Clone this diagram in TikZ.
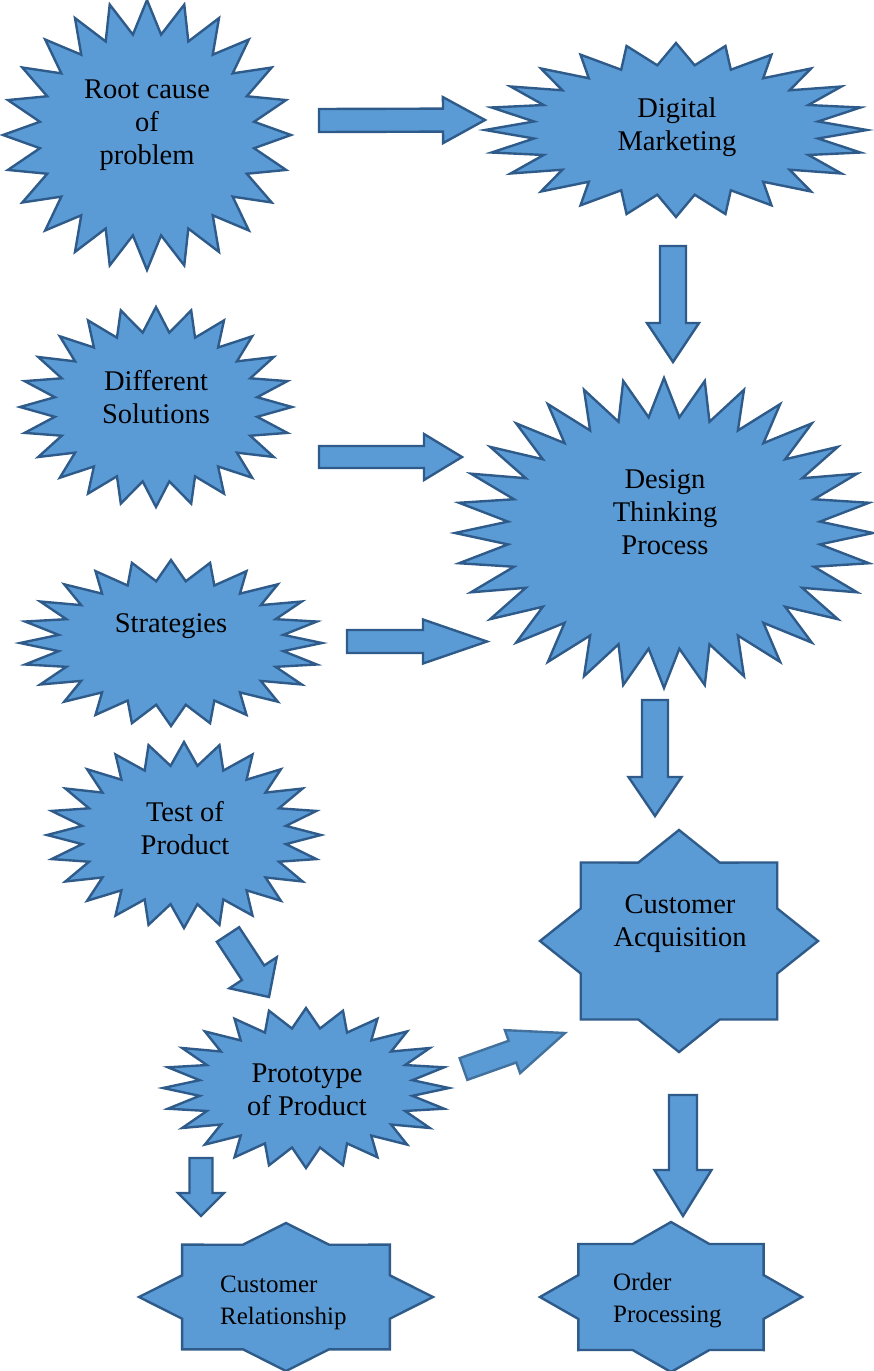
\documentclass[tikz,border=0pt]{standalone}
\usepackage{fontspec}
\setmainfont{Liberation Serif}
\usetikzlibrary{calc}
\definecolor{fillblue}{HTML}{5B9BD5}
\definecolor{lineblue}{HTML}{2E5B8A}
\definecolor{lightline}{HTML}{41719C}
\tikzset{
  shp/.style={fill=fillblue, draw=lineblue, line width=2.4pt, line join=miter, miter limit=10},
  arr/.style={fill=fillblue, draw=lineblue, line width=2.4pt, line join=miter},
  lbl/.style={align=center, font=\fontsize{28.5}{33}\selectfont, inner sep=0pt, text=black},
  lbls/.style={align=left, font=\fontsize{25}{32}\selectfont, inner sep=0pt, anchor=west, text=black},
}
% #1 cx, #2 cy, #3 rx, #4 ry, #5 points, #6 inner ratio
\newcommand\burstshape[6]{%
  \pgfmathtruncatemacro\burstns{2*#5}%
  \pgfmathtruncatemacro\burstnn{2*#5-1}%
  \draw[shp] plot[samples=\burstns, domain=0:\burstnn, variable=\k]
    ({#1+#3*(((1+#6)+(1-#6)*cos(180*\k))/2)*cos(90-180*\k/#5)},
     {#2+#4*(((1+#6)+(1-#6)*cos(180*\k))/2)*sin(90-180*\k/#5)}) -- cycle;
}
% #1 tail, #2 tip, #3 shaft half width, #4 head half width, #5 head length (pt), #6 extra style
\newcommand\blockarr[6]{%
  \coordinate (ba) at ($(#2)!#5pt!(#1)$);
  \draw[arr,#6] ($(#1)!#3pt!90:(#2)$) -- ($(ba)!#3pt!-90:(#1)$) -- ($(ba)!#4pt!-90:(#1)$)
    -- (#2) -- ($(ba)!#4pt!90:(#1)$) -- ($(ba)!#3pt!90:(#1)$) -- ($(#1)!#3pt!-90:(#2)$) -- cycle;
}
\begin{document}
\begin{tikzpicture}[x=1pt, y=-1pt]
\useasboundingbox (0,0) rectangle (874,1371);

% shapes
\burstshape{147}{135}{144}{135}{24}{0.75}
\burstshape{676}{130}{191}{87}{24}{0.75}
\burstshape{156}{407}{136}{100}{24}{0.75}
\burstshape{664}{533}{209}{155}{32}{0.75}
\burstshape{171}{643}{151}{83}{24}{0.75}
\burstshape{184}{835}{137}{93}{24}{0.75}
\burstshape{306}{1088}{143}{80}{24}{0.75}
\burstshape{679}{941}{139}{111}{8}{0.765}
\burstshape{286}{1297}{147}{74}{8}{0.765}
\burstshape{671}{1297}{131}{75}{8}{0.765}

% labels
\node[lbl] (root) at (147,125) {Root cause\\of\\problem};
\node[lbl] (digital) at (677,127) {Digital\\Marketing};
\node[lbl] (different) at (156,397) {Different\\Solutions};
\node[lbl] (design) at (665,512) {Design\\Thinking\\Process};
\node[lbl] (strategies) at (171,626) {Strategies};
\node[lbl] (test) at (185,828) {Test of\\Product};
\node[lbl] (acq) at (680,924) {Customer\\Acquisition};
\node[lbl] (proto) at (307,1090) {Prototype\\of Product};
\node[lbls] (relation) at (220,1303) {Customer\\Relationship};
\node[lbls] (order) at (613,1301) {Order\\Processing};

% arrow end points
\coordinate (a1s) at (319,120.5); \coordinate (a1e) at (485,120);
\coordinate (a2s) at (673,246);   \coordinate (a2e) at (673,362);
\coordinate (a3s) at (319,457);   \coordinate (a3e) at (462,457);
\coordinate (a4s) at (347,641.5); \coordinate (a4e) at (487,641.5);
\coordinate (a5s) at (655,700);   \coordinate (a5e) at (655,816);
\coordinate (a6s) at (228,934.5); \coordinate (a6e) at (269,997);
\coordinate (a7s) at (463.5,1069);\coordinate (a7e) at (565,1033);
\coordinate (a8s) at (201,1158);  \coordinate (a8e) at (201,1216);
\coordinate (a9s) at (683,1095);  \coordinate (a9e) at (683,1216);

\blockarr{a1s}{a1e}{11.5}{23}{42}{}
\blockarr{a2s}{a2e}{13}{26}{39}{}
\blockarr{a3s}{a3e}{11}{23}{38}{}
\blockarr{a4s}{a4e}{11.5}{22}{64}{}
\blockarr{a5s}{a5e}{13}{26.5}{39}{}
\blockarr{a6s}{a6e}{13.3}{28.3}{29}{}
\blockarr{a7s}{a7e}{11.5}{22.8}{55.7}{draw=lightline}
\blockarr{a8s}{a8e}{11.5}{23}{23}{}
\blockarr{a9s}{a9e}{14}{28.5}{46}{}
\end{tikzpicture}
\end{document}
